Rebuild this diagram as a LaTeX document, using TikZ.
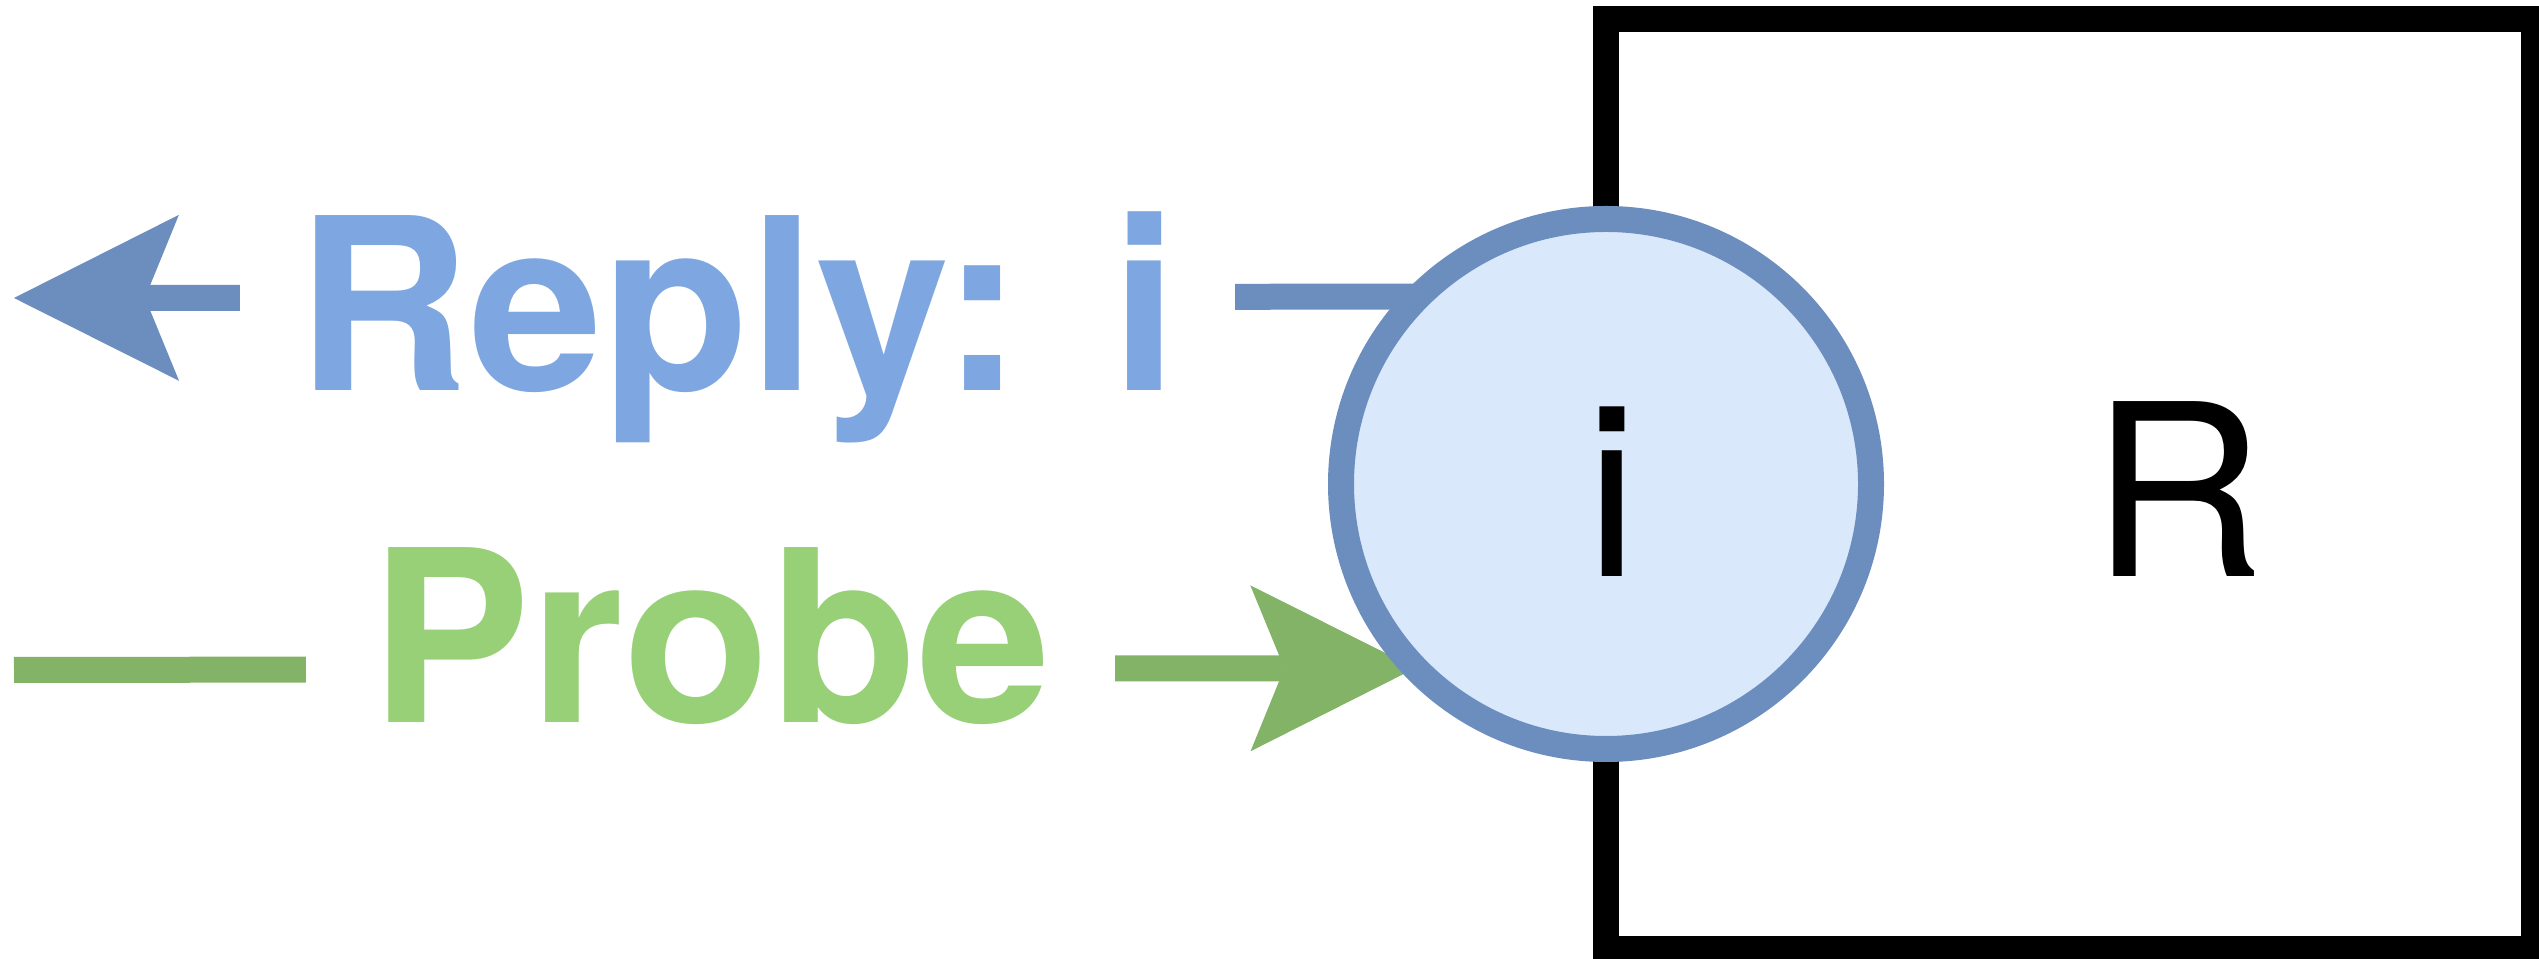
\documentclass[tikz,border=0pt]{standalone}
\usepackage{fontspec}
\setmainfont{TeX Gyre Heros}
\usetikzlibrary{arrows.meta,backgrounds}
\definecolor{bstroke}{HTML}{6C8EBF}
\definecolor{bfill}{HTML}{DAE8FC}
\definecolor{btext}{HTML}{7EA6E0}
\definecolor{gtext}{HTML}{97D077}
\definecolor{gline}{HTML}{82B366}
\begin{document}
\begin{tikzpicture}[x=0.25pt,y=-0.25pt,
  bigtext/.style={font=\fontsize{60pt}{72pt}\selectfont, inner sep=0pt, anchor=base},
  lbl/.style={font=\fontsize{60pt}{72pt}\selectfont\bfseries, anchor=base, fill=white, inner xsep=0pt, inner ysep=2pt},
  conn/.style={line width=6.5pt},
  arrowhd/.style={-{Stealth[length=41.25pt,width=41.5pt,inset=8.5pt,line width=0pt]}}
]
\useasboundingbox (0,0) rectangle (2539,959);
\clip (0,0) rectangle (2539,959);

% box R
\node[draw=black, line width=6.5pt, rectangle, minimum width=232pt, minimum height=232.5pt, inner sep=0pt, outer sep=0pt] (rbox) at (2070,484) {};
\node[bigtext] (rlab) at (2178,577) {R};

% circle i
\node[draw=bstroke, fill=bfill, line width=6.5pt, circle, minimum size=132.5pt, inner sep=0pt, outer sep=0pt] (circ) at (1606,484) {};
\node[bigtext] (ilab) at (1612,577) {i};

% free ends
\coordinate (replyTip) at (14,298);
\coordinate (probeStart) at (14,670);

% labels
\node[lbl, text=btext, minimum width=248.75pt] (reply) at (737,391) {Reply: i};
\node[lbl, text=gtext, minimum width=202.25pt] (probe) at (710.5,723) {Probe};

\begin{scope}[on background layer]
\draw[conn, bstroke, arrowhd] (circ.135.4) -- (replyTip);
\draw[conn, gline, arrowhd] (probeStart) -- (circ.224.6);
\end{scope}
\end{tikzpicture}
\end{document}
